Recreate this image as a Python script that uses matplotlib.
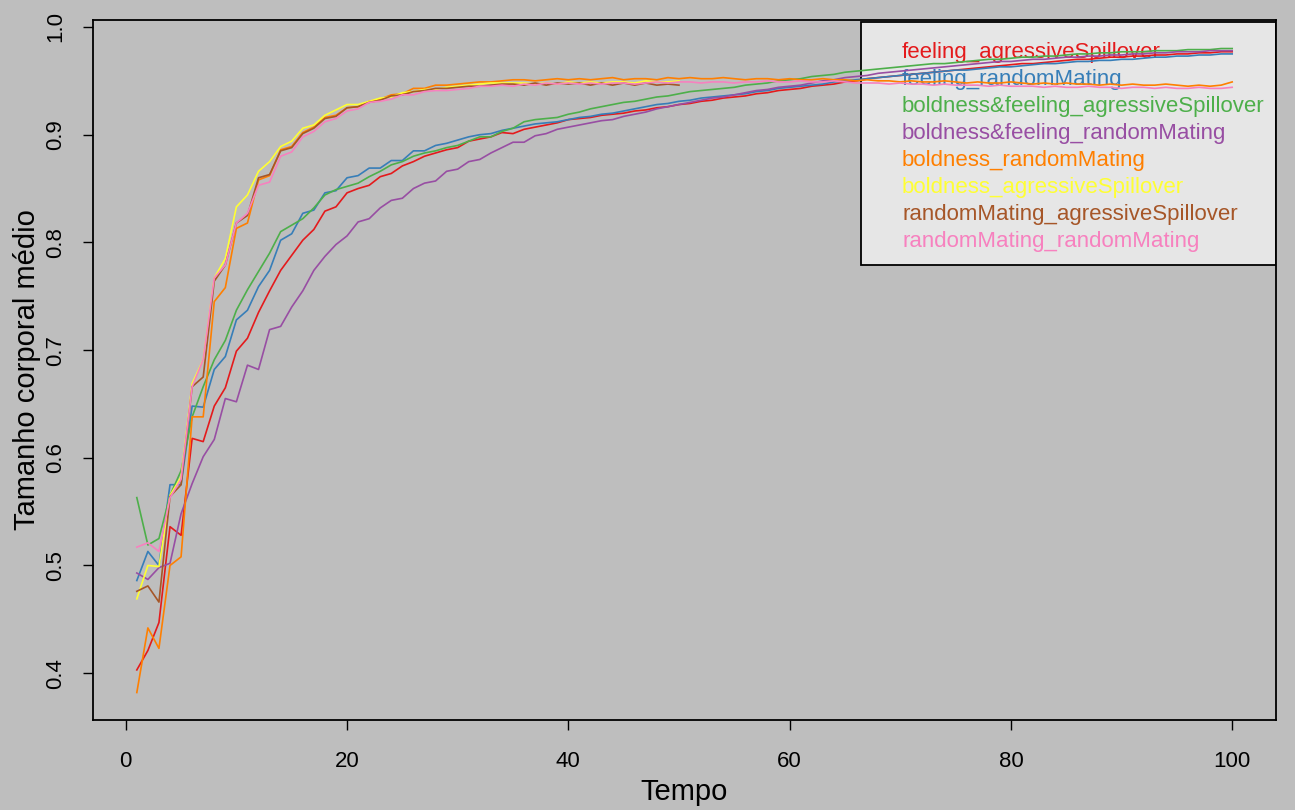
import matplotlib
matplotlib.use("Agg")
import matplotlib.pyplot as plt
from matplotlib.lines import Line2D
from matplotlib.patches import Rectangle

plt.rcParams['font.family'] = ['Liberation Sans', 'DejaVu Sans']

tempo = list(range(1, 101))
tempo_half = list(range(1, 51))

feeling_agressive = [
    0.403, 0.421, 0.447, 0.536, 0.528, 0.618, 0.615, 0.648, 0.665, 0.699,
    0.711, 0.735, 0.755, 0.774, 0.788, 0.802, 0.812, 0.829, 0.833, 0.846,
    0.850, 0.853, 0.861, 0.864, 0.871, 0.875, 0.880, 0.883, 0.886, 0.888,
    0.894, 0.896, 0.898, 0.902, 0.901, 0.905, 0.907, 0.909, 0.911, 0.914,
    0.915, 0.916, 0.918, 0.919, 0.920, 0.922, 0.923, 0.925, 0.926, 0.928,
    0.929, 0.931, 0.932, 0.934, 0.935, 0.936, 0.938, 0.939, 0.941, 0.942,
    0.943, 0.945, 0.946, 0.947, 0.949, 0.950, 0.952, 0.953, 0.954, 0.955,
    0.956, 0.957, 0.958, 0.959, 0.960, 0.961, 0.962, 0.963, 0.964, 0.965,
    0.966, 0.966, 0.967, 0.968, 0.969, 0.970, 0.970, 0.971, 0.972, 0.972,
    0.973, 0.973, 0.974, 0.974, 0.975, 0.975, 0.976, 0.976, 0.977, 0.977]

feeling_random = [
    0.486, 0.513, 0.500, 0.575, 0.575, 0.648, 0.647, 0.682, 0.694, 0.728,
    0.737, 0.759, 0.774, 0.802, 0.808, 0.827, 0.830, 0.846, 0.848, 0.860,
    0.862, 0.869, 0.869, 0.876, 0.876, 0.885, 0.885, 0.890, 0.892, 0.895,
    0.898, 0.900, 0.901, 0.904, 0.906, 0.908, 0.910, 0.911, 0.912, 0.914,
    0.916, 0.917, 0.919, 0.920, 0.922, 0.924, 0.926, 0.928, 0.929, 0.931,
    0.932, 0.934, 0.935, 0.936, 0.937, 0.938, 0.940, 0.941, 0.943, 0.944,
    0.945, 0.946, 0.947, 0.949, 0.950, 0.951, 0.952, 0.953, 0.954, 0.955,
    0.956, 0.957, 0.958, 0.959, 0.960, 0.960, 0.961, 0.962, 0.963, 0.963,
    0.964, 0.965, 0.966, 0.966, 0.967, 0.968, 0.968, 0.969, 0.969, 0.970,
    0.970, 0.971, 0.972, 0.972, 0.973, 0.973, 0.974, 0.974, 0.975, 0.975]

bf_agressive = [
    0.563, 0.519, 0.525, 0.565, 0.588, 0.638, 0.666, 0.691, 0.709, 0.737,
    0.756, 0.773, 0.790, 0.810, 0.816, 0.822, 0.832, 0.844, 0.849, 0.852,
    0.855, 0.861, 0.866, 0.872, 0.875, 0.880, 0.883, 0.885, 0.888, 0.890,
    0.894, 0.898, 0.898, 0.903, 0.906, 0.912, 0.914, 0.915, 0.916, 0.919,
    0.921, 0.924, 0.926, 0.928, 0.930, 0.931, 0.933, 0.935, 0.936, 0.938,
    0.940, 0.941, 0.942, 0.943, 0.944, 0.946, 0.947, 0.948, 0.950, 0.951,
    0.952, 0.954, 0.955, 0.956, 0.958, 0.959, 0.960, 0.961, 0.962, 0.963,
    0.964, 0.965, 0.966, 0.966, 0.967, 0.968, 0.969, 0.970, 0.970, 0.971,
    0.972, 0.972, 0.973, 0.973, 0.974, 0.975, 0.975, 0.976, 0.976, 0.977,
    0.977, 0.977, 0.978, 0.978, 0.978, 0.979, 0.979, 0.979, 0.980, 0.980]

bf_random = [
    0.493, 0.487, 0.498, 0.502, 0.548, 0.576, 0.601, 0.617, 0.655, 0.652,
    0.686, 0.682, 0.719, 0.722, 0.740, 0.755, 0.774, 0.787, 0.798, 0.806,
    0.819, 0.822, 0.832, 0.839, 0.841, 0.850, 0.855, 0.857, 0.866, 0.868,
    0.875, 0.877, 0.883, 0.888, 0.893, 0.893, 0.899, 0.901, 0.905, 0.907,
    0.909, 0.911, 0.913, 0.914, 0.917, 0.919, 0.921, 0.924, 0.926, 0.928,
    0.930, 0.932, 0.934, 0.935, 0.937, 0.939, 0.941, 0.942, 0.944, 0.945,
    0.946, 0.948, 0.950, 0.951, 0.953, 0.954, 0.955, 0.957, 0.958, 0.959,
    0.960, 0.961, 0.962, 0.963, 0.964, 0.965, 0.966, 0.967, 0.968, 0.968,
    0.969, 0.970, 0.970, 0.971, 0.972, 0.972, 0.973, 0.973, 0.974, 0.974,
    0.975, 0.975, 0.976, 0.976, 0.977, 0.977, 0.977, 0.978, 0.978, 0.978]

boldness_random = [
    0.382, 0.442, 0.423, 0.500, 0.508, 0.638, 0.638, 0.745, 0.758, 0.813,
    0.818, 0.858, 0.862, 0.886, 0.889, 0.902, 0.907, 0.916, 0.918, 0.925,
    0.926, 0.931, 0.933, 0.937, 0.938, 0.943, 0.943, 0.946, 0.946, 0.947,
    0.948, 0.949, 0.949, 0.950, 0.951, 0.951, 0.950, 0.951, 0.952, 0.951,
    0.952, 0.951, 0.952, 0.953, 0.951, 0.952, 0.952, 0.951, 0.953, 0.952,
    0.953, 0.952, 0.952, 0.953, 0.952, 0.951, 0.952, 0.952, 0.951, 0.952,
    0.951, 0.951, 0.952, 0.951, 0.951, 0.950, 0.951, 0.950, 0.950, 0.949,
    0.950, 0.949, 0.949, 0.950, 0.949, 0.948, 0.949, 0.948, 0.948, 0.949,
    0.948, 0.947, 0.948, 0.947, 0.948, 0.947, 0.947, 0.946, 0.947, 0.946,
    0.947, 0.946, 0.946, 0.947, 0.946, 0.945, 0.946, 0.945, 0.946, 0.949]

boldness_agressive = [
    0.469, 0.500, 0.499, 0.565, 0.582, 0.669, 0.691, 0.767, 0.785, 0.833,
    0.844, 0.866, 0.875, 0.889, 0.894, 0.906, 0.909, 0.918, 0.923, 0.928,
    0.928, 0.931, 0.934, 0.935, 0.939, 0.940, 0.942, 0.942, 0.944, 0.945,
    0.946, 0.947, 0.948, 0.948, 0.948, 0.948, 0.947, 0.948, 0.947, 0.949,
    0.948, 0.949, 0.948, 0.949, 0.949, 0.948, 0.950, 0.949, 0.949, 0.950]

random_agressive = [
    0.476, 0.481, 0.466, 0.564, 0.575, 0.666, 0.675, 0.764, 0.779, 0.818,
    0.825, 0.860, 0.863, 0.885, 0.888, 0.901, 0.906, 0.915, 0.917, 0.925,
    0.926, 0.930, 0.932, 0.936, 0.937, 0.940, 0.941, 0.943, 0.943, 0.944,
    0.945, 0.945, 0.946, 0.947, 0.947, 0.946, 0.948, 0.946, 0.948, 0.947,
    0.948, 0.946, 0.948, 0.946, 0.948, 0.946, 0.948, 0.946, 0.947, 0.946]

random_random = [
    0.517, 0.521, 0.513, 0.563, 0.580, 0.666, 0.691, 0.767, 0.779, 0.818,
    0.827, 0.853, 0.856, 0.880, 0.884, 0.898, 0.903, 0.912, 0.915, 0.922,
    0.924, 0.930, 0.931, 0.933, 0.937, 0.937, 0.940, 0.941, 0.941, 0.942,
    0.943, 0.945, 0.945, 0.946, 0.945, 0.947, 0.946, 0.948, 0.947, 0.948,
    0.947, 0.948, 0.947, 0.948, 0.948, 0.947, 0.948, 0.949, 0.948, 0.949,
    0.949, 0.948, 0.949, 0.949, 0.948, 0.949, 0.949, 0.950, 0.949, 0.949,
    0.950, 0.949, 0.949, 0.950, 0.949, 0.948, 0.948, 0.948, 0.947, 0.948,
    0.947, 0.947, 0.946, 0.947, 0.946, 0.946, 0.946, 0.945, 0.946, 0.945,
    0.945, 0.945, 0.944, 0.945, 0.944, 0.944, 0.945, 0.944, 0.944, 0.943,
    0.944, 0.944, 0.943, 0.944, 0.943, 0.943, 0.944, 0.943, 0.943, 0.944]

labels = ["feeling_agressiveSpillover", "feeling_randomMating",
          "boldness&feeling_agressiveSpillover", "boldness&feeling_randomMating",
          "boldness_randomMating", "boldness_agressiveSpillover",
          "randomMating_agressiveSpillover", "randomMating_randomMating"]
colors = ["#E41A1C", "#377EB8", "#4DAF4A", "#984EA3",
          "#FF7F00", "#FFFF33", "#A65628", "#F781BF"]
series = [(tempo, feeling_agressive), (tempo, feeling_random),
          (tempo, bf_agressive), (tempo, bf_random),
          (tempo, boldness_random), (tempo_half, boldness_agressive),
          (tempo_half, random_agressive), (tempo, random_random)]

bg = "#BEBEBE"
fig = plt.figure(figsize=(12.95, 8.10), dpi=100, facecolor=bg)
ax = fig.add_axes([93 / 1295, 1 - 720 / 810, (1276 - 93) / 1295, (720 - 20) / 810])
ax.set_facecolor(bg)

for (x, y), c in zip(series, colors):
    ax.plot(x, y, color=c, lw=1.2, zorder=3)

ax.set_xlim(-2.96, 103.96)
ax.set_ylim(0.3565, 1.0065)
ax.set_xticks([0, 20, 40, 60, 80, 100])
ax.set_yticks([0.4, 0.5, 0.6, 0.7, 0.8, 0.9, 1.0])
ax.set_yticklabels(["0.4", "0.5", "0.6", "0.7", "0.8", "0.9", "1.0"])
ax.tick_params(axis='both', length=7, width=1, color='black', labelsize=16, pad=12)
ax.tick_params(axis='x', pad=15)
for lab in ax.get_yticklabels():
    lab.set_rotation(90)
    lab.set_va('center')
for s in ax.spines.values():
    s.set_linewidth(1.3)

ax.set_xlabel("Tempo", fontsize=21)
ax.set_ylabel("Tamanho corporal médio", fontsize=21, va='center')
ax.xaxis.set_label_coords(0.5, -0.083)
ax.yaxis.set_label_coords(-0.056, 0.5)

# legend box (drawn under the lines, like the original)
box = Rectangle((0.6492, 0.65), 0.3508, 0.3471, transform=ax.transAxes,
                facecolor="#E6E6E6", edgecolor="black", lw=1.3, zorder=1.5)
ax.add_patch(box)

handles = [Line2D([], [], color=c, lw=0) for c in colors]
leg = ax.legend(handles, labels, loc='upper left', bbox_to_anchor=(0.6839, 0.969),
                borderaxespad=0, fontsize=16, labelcolor=colors,
                handlelength=0, handletextpad=0, borderpad=0,
                labelspacing=0.275, frameon=False)
leg.set_zorder(2)

fig.savefig("out.png", dpi=100, facecolor=bg)
